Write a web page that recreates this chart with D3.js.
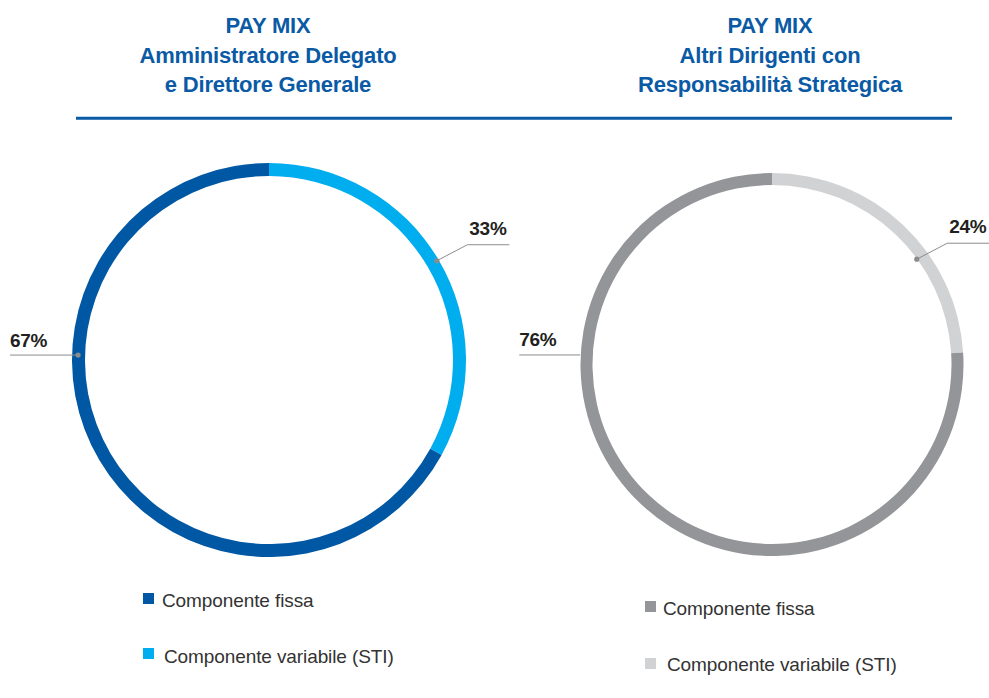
<!DOCTYPE html>
<html>
<head>
<meta charset="utf-8">
<script src="https://cdn.jsdelivr.net/npm/d3@7"></script>
<style>
  body { margin: 0; background: #fff; }
  text { font-family: "Liberation Sans", Arial, sans-serif; }
</style>
</head>
<body>
<svg id="chart" width="989" height="698"></svg>
<script>
// data
const categories = ["Componente variabile (STI)", "Componente fissa"];
const legendOrder = ["Componente fissa", "Componente variabile (STI)"];
const titles = [
  ["PAY MIX", "Amministratore Delegato", "e Direttore Generale"],
  ["PAY MIX", "Altri Dirigenti con", "Responsabilità Strategica"]
];
const ceoValues = [33, 67];
const drsValues = [24, 76];

const blue = "#0a5aa5";
const charts = [
  { values: ceoValues, titles: titles[0], colors: ["#00aeef", "#0057a3"],
    cx: 269, cy: 360, r: 197, w: 13, tx: 268,
    legend: { x: 143, y: [593, 648], tx: [162, 164], base: [606.5, 663] },
    // angle (rad, clockwise from top), radius, left line length
    labels: [{ a: null, r: 195 }, { a: -1.545, r: 191, len: 68 }] },
  { values: drsValues, titles: titles[1], colors: ["#d1d2d4", "#939598"],
    cx: 772, cy: 364.5, r: 191.5, w: 12, tx: 770,
    legend: { x: 645, y: [601, 658], tx: [663, 667], base: [614.5, 671] },
    labels: [{ a: 0.942, r: 179 }, { a: -1.521, r: 192, len: 61, noDot: true }] }
];

const svg = d3.select("#chart");

// header rule
svg.append("line")
  .attr("x1", 76).attr("x2", 952)
  .attr("y1", 118.3).attr("y2", 118.3)
  .attr("stroke", blue).attr("stroke-width", 3);

const pie = d3.pie().sort(null).value(d => d);

charts.forEach(function(c) {
  // title
  const t = svg.append("text")
    .attr("text-anchor", "middle")
    .attr("fill", blue)
    .style("font-size", "22px")
    .style("font-weight", "bold")
    .style("letter-spacing", "-0.2px");
  c.titles.forEach(function(line, i) {
    t.append("tspan").attr("x", c.tx).attr("y", 33.3 + i * 29.2).text(line);
  });

  const arc = d3.arc().innerRadius(c.r - c.w).outerRadius(c.r);
  const g = svg.append("g").attr("transform", `translate(${c.cx},${c.cy})`);
  const arcs = pie(c.values);

  g.selectAll(".slice")
    .data(arcs)
    .enter().append("path")
    .attr("class", "slice")
    .attr("d", arc)
    .attr("fill", (d, i) => c.colors[i]);

  // leader lines + labels
  arcs.forEach(function(d, i) {
    const lb = c.labels[i];
    let a = lb.a;
    if (a == null) a = (d.startAngle + d.endAngle) / 2;
    const px = lb.r * Math.sin(a), py = -lb.r * Math.cos(a);
    let pts;
    const label = g.append("text")
      .attr("fill", "#231f20")
      .style("font-size", "19px").style("font-weight", "bold")
      .style("letter-spacing", "-0.3px")
      .text(d.data + "%");
    if (px > 0) {
      pts = [[px, py], [px + 30.5, py - 16], [px + 72.5, py - 16]];
      label.attr("x", px + 32.5).attr("y", py - 26);
    } else {
      pts = [[px, py], [px - lb.len, py]];
      label.attr("x", px - lb.len).attr("y", py - 8.5);
    }
    g.append("path")
      .attr("d", d3.line()(pts))
      .attr("fill", "none")
      .attr("stroke", "#8c8c8c")
      .attr("stroke-width", 1);
    if (!lb.noDot) {
      g.append("circle")
        .attr("cx", px).attr("cy", py).attr("r", 2.6)
        .attr("fill", "#8c8c8c");
    }
  });

  // legend
  legendOrder.forEach(function(name, i) {
    const idx = categories.indexOf(name);
    svg.append("rect")
      .attr("x", c.legend.x).attr("y", c.legend.y[i])
      .attr("width", 11).attr("height", 11)
      .attr("fill", c.colors[idx]);
    svg.append("text")
      .attr("x", c.legend.tx[i]).attr("y", c.legend.base[i])
      .attr("fill", "#333")
      .style("font-size", "19px")
      .style("letter-spacing", "-0.1px")
      .text(name);
  });
});
</script>
</body>
</html>
